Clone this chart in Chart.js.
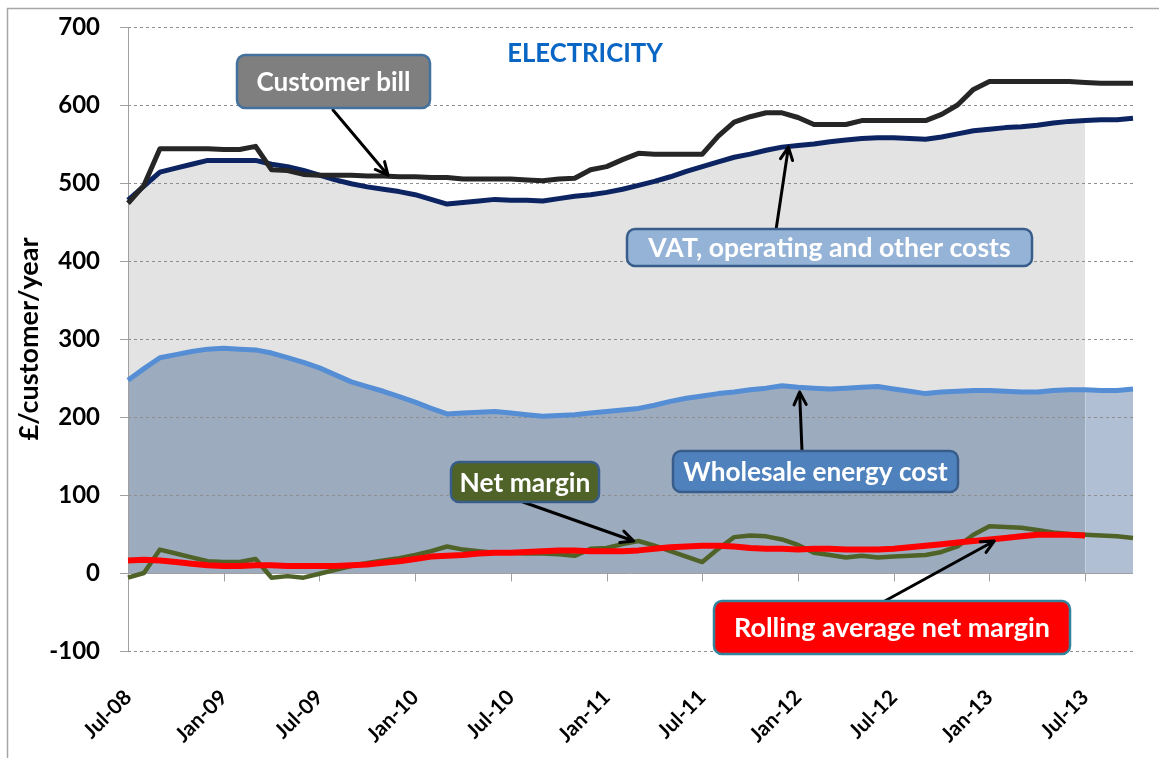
<!DOCTYPE html>
<html>
<head>
<meta charset="utf-8">
<script src="https://cdn.jsdelivr.net/npm/chart.js@4.4.1/dist/chart.umd.min.js"></script>
<style>
  body { margin: 0; background: #fff; }
  #wrap { width: 1159px; height: 758px; }
</style>
</head>
<body>
<div id="wrap"><canvas id="chart" width="1159" height="758"></canvas></div>
<script>
// monthly categories, Jul-08 to Oct-13
const months = [
  "Jul-08","Aug-08","Sep-08","Oct-08","Nov-08","Dec-08",
  "Jan-09","Feb-09","Mar-09","Apr-09","May-09","Jun-09","Jul-09","Aug-09","Sep-09","Oct-09","Nov-09","Dec-09",
  "Jan-10","Feb-10","Mar-10","Apr-10","May-10","Jun-10","Jul-10","Aug-10","Sep-10","Oct-10","Nov-10","Dec-10",
  "Jan-11","Feb-11","Mar-11","Apr-11","May-11","Jun-11","Jul-11","Aug-11","Sep-11","Oct-11","Nov-11","Dec-11",
  "Jan-12","Feb-12","Mar-12","Apr-12","May-12","Jun-12","Jul-12","Aug-12","Sep-12","Oct-12","Nov-12","Dec-12",
  "Jan-13","Feb-13","Mar-13","Apr-13","May-13","Jun-13","Jul-13","Aug-13","Sep-13","Oct-13"
];
const lastActual = "Jul-13";

// £/customer/year
const customerBill = [
  474,497,544,544,544,544, 543,543,547,517,516,511,510,510,510,509,509,508,
  508,507,507,505,505,505,505,504,503,505,506,517, 521,530,538,537,537,537,537,560,578,585,590,590,
  584,575,575,575,580,580,580,580,580,588,600,620, 630,630,630,630,630,630,629,628,628,628
];
const otherCosts = [
  478,496,514,519,524,529, 529,529,529,524,521,516,510,504,499,495,492,489,
  485,479,473,475,477,479,478,478,477,480,483,485, 488,492,497,502,508,515,521,527,533,537,542,546,
  548,550,553,555,557,558,558,557,556,559,563,567, 569,571,572,574,577,579,580,581,581,583
];
const wholesale = [
  247,262,276,280,284,287, 288,287,286,282,276,270,263,254,245,239,233,226,
  219,211,204,205,206,207,205,203,201,202,203,205, 207,209,211,215,220,224,227,230,232,235,237,240,
  238,237,236,237,238,239,236,233,230,232,233,234, 234,233,232,232,234,235,235,234,234,236
];
const netMargin = [
  -6,0,30,25,20,15, 14,14,18,-6,-4,-6,-1,4,9,13,16,19,
  23,28,34,30,28,26,26,25,25,24,22,31, 32,37,41,35,28,21,14,31,46,48,47,43,
  36,26,23,20,22,20,21,22,23,27,34,49, 60,59,58,55,52,50,49,48,47,45
];
const rollingMargin = [
  16,17,16,14,12,10, 9,9,10,10,9,9,9,9,10,11,13,15,
  18,21,22,23,25,26,26,27,28,29,29,28, 28,28,29,31,33,34,35,35,34,32,31,31,
  30,31,31,30,30,30,31,33,35,37,39,41, 43,45,47,49,49,49,48
];

const yTicks = [-100, 0, 100, 200, 300, 400, 500, 600, 700];

const cut = months.indexOf(lastActual);
const upToCut = arr => arr.map((v, i) => i <= cut ? v : null);
const fromCut = arr => arr.map((v, i) => i >= cut ? v : null);

const FONT = 'Lato, "Open Sans", sans-serif';

// callout boxes (pixel layout) with arrow tips in data coordinates
const callouts = [
  { text: 'Customer bill', fill: '#7f7f7f', stroke: '#41719c', box: [237, 55, 193, 53], textWidth: 154, from: [333, 110], to: [16.3, 510] },
  { text: 'VAT, operating and other costs', fill: '#95b3d7', stroke: '#385d8a', box: [627, 229, 405, 37], textWidth: 363, from: [776, 230], to: [41.4, 546] },
  { text: 'Wholesale energy cost', fill: '#4f81bd', stroke: '#385d8a', box: [673, 451, 285, 41], textWidth: 264, from: [802, 451], to: [42.1, 232] },
  { text: 'Net margin', fill: '#4f6228', stroke: '#385d8a', box: [451, 462, 148, 40], textWidth: 131, from: [523, 502], to: [31.7, 41] },
  { text: 'Rolling average net margin', fill: '#ff0000', stroke: '#31849b', box: [714, 601, 356, 53], textWidth: 316, from: [883, 602], to: [54.3, 41] }
];

function fitFont(ctx, text, width) {
  ctx.font = 'bold 100px ' + FONT;
  const size = 100 * width / ctx.measureText(text).width;
  return 'bold ' + size.toFixed(1) + 'px ' + FONT;
}

function arrow(ctx, x1, y1, x2, y2) {
  const ang = Math.atan2(y2 - y1, x2 - x1);
  const len = 14, spread = 0.45;
  ctx.save();
  ctx.strokeStyle = '#000';
  ctx.lineWidth = 3;
  ctx.lineCap = 'round';
  ctx.lineJoin = 'round';
  ctx.beginPath();
  ctx.moveTo(x1, y1);
  ctx.lineTo(x2, y2);
  ctx.moveTo(x2 - len * Math.cos(ang - spread), y2 - len * Math.sin(ang - spread));
  ctx.lineTo(x2, y2);
  ctx.lineTo(x2 - len * Math.cos(ang + spread), y2 - len * Math.sin(ang + spread));
  ctx.stroke();
  ctx.restore();
}

const overlay = {
  id: 'overlay',
  // grid lines go over the filled areas but under the lines
  afterDatasetDraw(chart, args) {
    if (chart.data.datasets[args.index].label !== 'wholesale forecast area') return;
    const ctx = chart.ctx, area = chart.chartArea;
    const y = chart.scales.y, x = chart.scales.x;
    ctx.save();
    ctx.lineWidth = 1;
    ctx.strokeStyle = '#8e8e8e';
    ctx.setLineDash([3, 3]);
    y.ticks.forEach(t => {
      if (t.value === 0) return;
      const py = Math.round(y.getPixelForValue(t.value)) + 0.5;
      ctx.beginPath();
      ctx.moveTo(area.left, py);
      ctx.lineTo(area.right, py);
      ctx.stroke();
    });
    ctx.setLineDash([]);
    ctx.strokeStyle = '#a0a0a0';
    const y0 = Math.round(y.getPixelForValue(0)) + 0.5;
    ctx.beginPath();
    ctx.moveTo(area.left, y0);
    ctx.lineTo(area.right, y0);
    months.forEach((m, i) => {
      if (i % 6 !== 0) return;
      const px = Math.round(x.getPixelForValue(i)) + 0.5;
      ctx.moveTo(px, y0);
      ctx.lineTo(px, y0 + 8);
    });
    const lx = Math.round(area.left) + 0.5;
    ctx.moveTo(lx, area.top);
    ctx.lineTo(lx, area.bottom);
    ctx.stroke();
    ctx.restore();
  },
  afterDraw(chart) {
    const ctx = chart.ctx;
    const x = chart.scales.x, y = chart.scales.y;
    ctx.save();
    // outer frame
    ctx.strokeStyle = '#a6a6a6';
    ctx.lineWidth = 1.5;
    ctx.strokeRect(7.5, 8.5, 1300, 900);
    // title
    ctx.fillStyle = '#0a66c4';
    ctx.font = fitFont(ctx, 'ELECTRICITY', 156);
    ctx.textAlign = 'center';
    ctx.textBaseline = 'middle';
    ctx.fillText('ELECTRICITY', 585, 54);
    // callouts
    callouts.forEach(c => {
      const [bx, by, bw, bh] = c.box;
      arrow(ctx, c.from[0], c.from[1], x.getPixelForValue(c.to[0]), y.getPixelForValue(c.to[1]));
      ctx.beginPath();
      ctx.roundRect(bx, by, bw, bh, 8);
      ctx.fillStyle = c.fill;
      ctx.fill();
      ctx.lineWidth = 2.5;
      ctx.strokeStyle = c.stroke;
      ctx.stroke();
      ctx.fillStyle = '#fff';
      ctx.font = fitFont(ctx, c.text, c.textWidth);
      ctx.textAlign = 'center';
      ctx.textBaseline = 'middle';
      ctx.fillText(c.text, bx + bw / 2, by + bh / 2 + 1);
    });
    ctx.restore();
  }
};

new Chart(document.getElementById('chart'), {
  type: 'line',
  data: {
    labels: months,
    datasets: [
      { label: 'Rolling average net margin', data: rollingMargin, borderColor: '#ff0000', borderWidth: 6, fill: false, order: 1 },
      { label: 'Net margin', data: netMargin, borderColor: '#4f6228', borderWidth: 4.5, fill: false, order: 2 },
      { label: 'Customer bill', data: customerBill, borderColor: '#262626', borderWidth: 5, fill: false, order: 3 },
      { label: 'VAT, operating and other costs', data: otherCosts, borderColor: '#0c2461', borderWidth: 5, fill: false, order: 4 },
      { label: 'Wholesale energy cost', data: wholesale, borderColor: '#558ed5', borderWidth: 5, fill: false, order: 5 },
      { label: 'wholesale forecast area', data: fromCut(wholesale), borderWidth: 0, borderColor: 'rgba(0,0,0,0)', backgroundColor: '#b0bfd3', fill: 'origin', order: 10 },
      { label: 'wholesale area', data: upToCut(wholesale), borderWidth: 0, borderColor: 'rgba(0,0,0,0)', backgroundColor: '#9dabbf', fill: 'origin', order: 11 },
      { label: 'costs area', data: upToCut(otherCosts), borderWidth: 0, borderColor: 'rgba(0,0,0,0)', backgroundColor: '#e3e3e3', fill: 'origin', order: 12 }
    ]
  },
  options: {
    responsive: false,
    devicePixelRatio: 1,
    animation: false,
    layout: { padding: { top: 27, right: 26, left: 0, bottom: 0 } },
    plugins: { legend: { display: false }, tooltip: { enabled: false } },
    elements: { point: { radius: 0 }, line: { tension: 0, borderJoinStyle: 'round' } },
    scales: {
      x: {
        offset: false,
        grid: { display: false, drawTicks: false },
        border: { display: false },
        ticks: {
          autoSkip: false, maxRotation: 45, minRotation: 45, padding: 34,
          color: '#000', font: { family: FONT, weight: 'bold', size: 21 },
          callback: function (v, i) { return i % 6 === 0 ? this.getLabelForValue(v) : ''; }
        },
        afterFit: s => { s.height = 107; s.paddingLeft = 0; s.paddingRight = 0; }
      },
      y: {
        min: yTicks[0], max: yTicks[yTicks.length - 1],
        afterBuildTicks: s => { s.ticks = yTicks.map(v => ({ value: v })); },
        grid: { drawOnChartArea: false, tickLength: 8, tickColor: '#a0a0a0' },
        border: { display: false },
        ticks: { padding: 20, color: '#000', font: { family: FONT, weight: 'bold', size: 24 } },
        title: { display: true, text: '£/customer/year', color: '#000', font: { family: FONT, weight: 'bold', size: 27 }, padding: { top: 13, bottom: 0 } },
        afterFit: s => { s.width = 128; s.paddingTop = 0; s.paddingBottom = 0; }
      }
    }
  },
  plugins: [overlay]
});
</script>
</body>
</html>
